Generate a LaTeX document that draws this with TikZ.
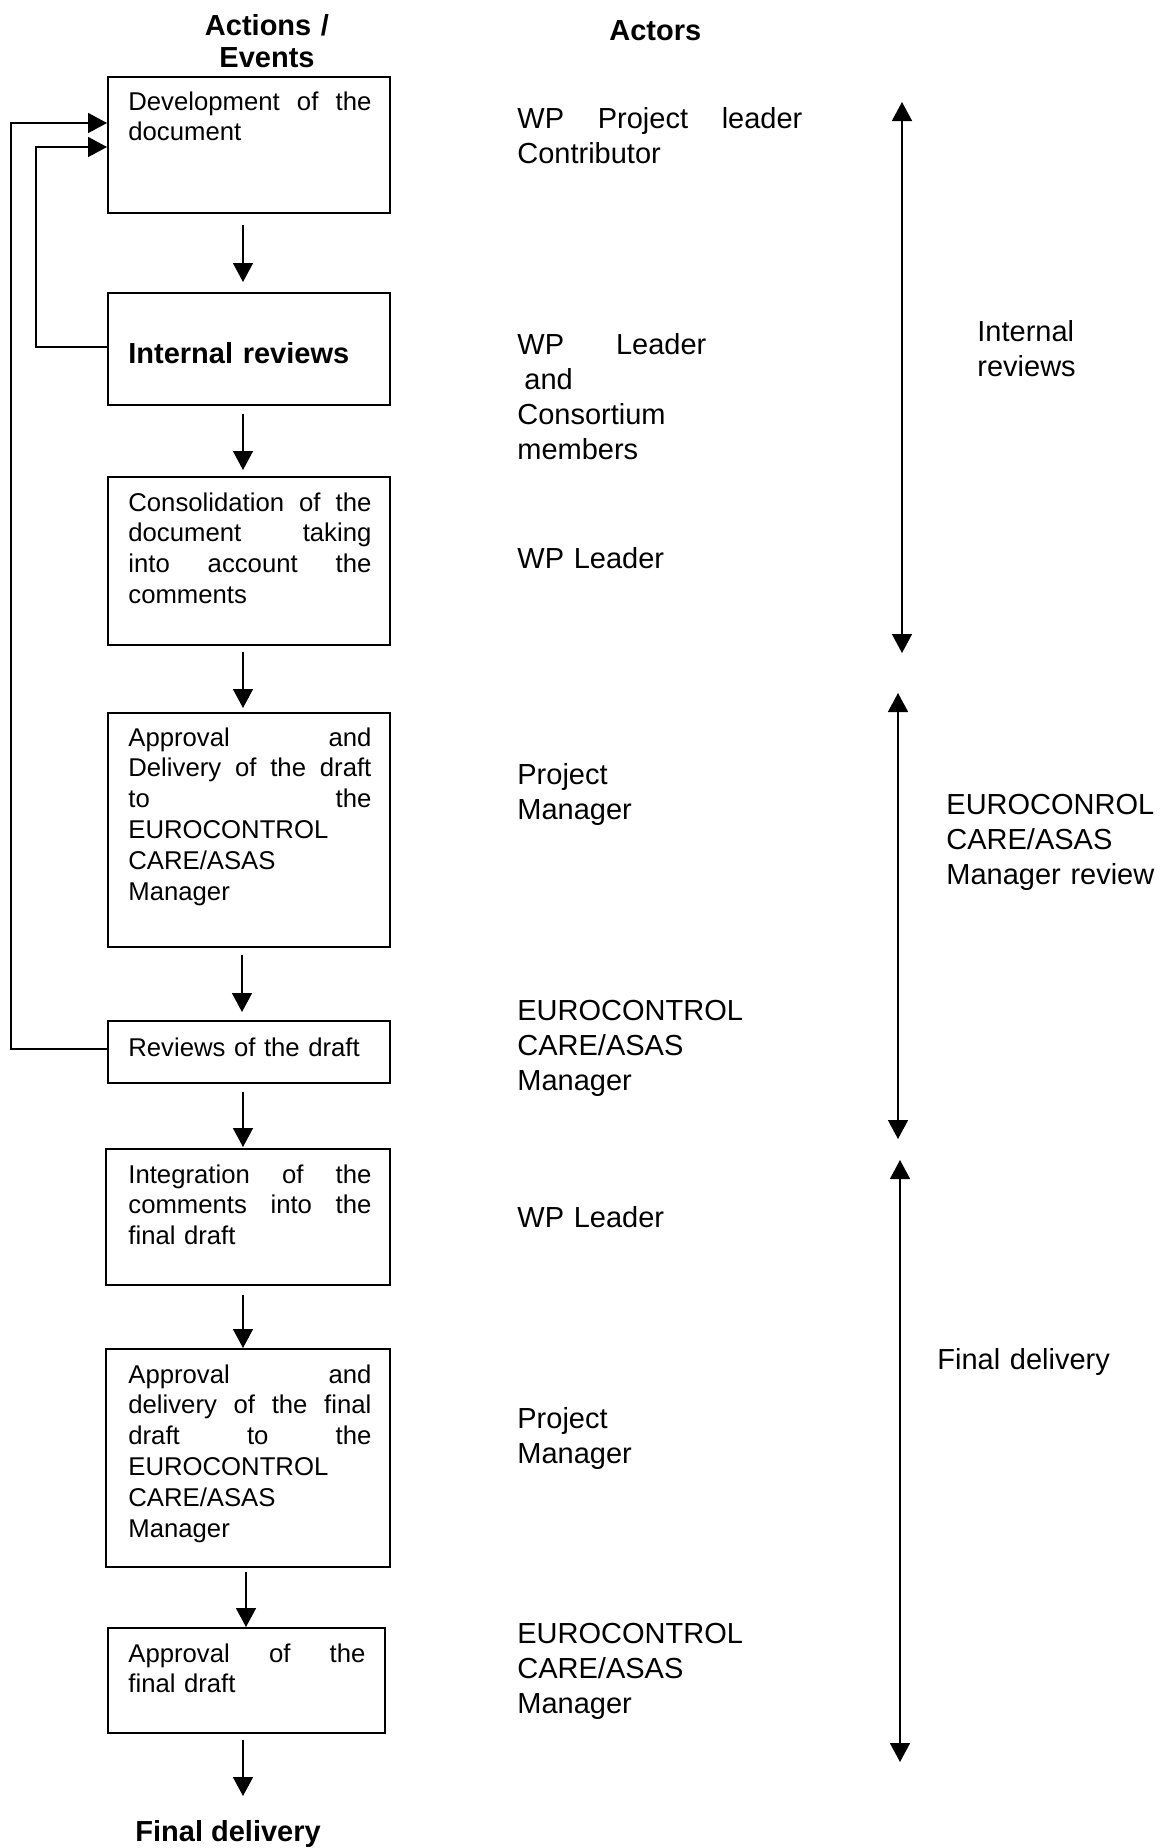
\documentclass[tikz,border=0pt]{standalone}
\usepackage{fontspec}
\setmainfont{Liberation Sans}
\usetikzlibrary{arrows.meta,calc}
\newcommand\bxfont{\fontsize{12.85}{15.4}\selectfont}
\newcommand\acfont{\fontsize{14.5}{17.5}\selectfont}
\newcommand\ttfont{\fontsize{14.5}{16}\selectfont\bfseries}
\newcommand\jl[1]{\leavevmode\hbox to\linewidth{#1}}
\newcommand\jw[2]{\leavevmode\hbox to #1{#2}}
\begin{document}
\begin{tikzpicture}[x=0.5pt,y=-0.5pt,
  boxst/.style={draw, line width=1pt, inner sep=0pt, anchor=north west},
  btext/.style={inner sep=0pt, anchor=base west, text width=121.5pt, font=\bxfont},
  atext/.style={inner sep=0pt, anchor=base west, text width=160pt, font=\acfont},
  ttl/.style={inner sep=0pt, font=\ttfont},
  arr/.style={line width=0.75pt, -{Triangle[length=9.5pt,width=10pt]}},
  darr/.style={line width=0.75pt, {Triangle[length=9.5pt,width=10pt]}-{Triangle[length=9.5pt,width=10pt]}}]
\useasboundingbox (0,0) rectangle (1176,1848);

% titles
\node[ttl, text width=80pt, align=center, anchor=base] (tA) at (267,35) {Actions /\\Events};
\node[ttl, anchor=base west] (tB) at (609,40) {Actors};
\node[ttl, anchor=base west] (fd) at (135,1841) {Final delivery};

% boxes
\node[boxst, minimum width=141pt, minimum height=68pt] (b1) at (107,76) {};
\node[boxst, minimum width=141pt, minimum height=56pt] (b2) at (107,292) {};
\node[boxst, minimum width=141pt, minimum height=84pt] (b3) at (107,476) {};
\node[boxst, minimum width=141pt, minimum height=117pt] (b4) at (107,712) {};
\node[boxst, minimum width=141pt, minimum height=31pt] (b5) at (107,1020) {};
\node[boxst, minimum width=142pt, minimum height=68pt] (b6) at (105,1148) {};
\node[boxst, minimum width=142pt, minimum height=109pt] (b7) at (105,1348) {};
\node[boxst, minimum width=138.5pt, minimum height=52.5pt] (b8) at (107,1627) {};

% box texts
\node[btext] (x1) at (128,110) {\jl{Development\hfill of\hfill the}\\document};
\node[btext, font=\ttfont] (x2) at (128,363) {Internal reviews};
\node[btext] (x3) at (128,511) {\jl{Consolidation\hfill of\hfill the}\\\jl{document\hfill taking}\\\jl{into\hfill account\hfill the}\\comments};
\node[btext] (x4) at (128,746) {\jl{Approval\hfill and}\\\jl{Delivery\hfill of\hfill the\hfill draft}\\\jl{to\hfill the}\\EUROCONTROL\\CARE/ASAS\\Manager};
\node[btext] (x5) at (128,1056) {Reviews of the draft};
\node[btext] (x6) at (128,1183) {\jl{Integration\hfill of\hfill the}\\\jl{comments\hfill into\hfill the}\\final draft};
\node[btext] (x7) at (128,1383) {\jl{Approval\hfill and}\\\jl{delivery\hfill of\hfill the\hfill final}\\\jl{draft\hfill to\hfill the}\\EUROCONTROL\\CARE/ASAS\\Manager};
\node[btext, text width=118.5pt] (x8) at (128,1662) {\jl{Approval\hfill of\hfill the}\\final draft};

% actors
\node[atext] (p1) at (517,128) {\jw{142.5pt}{WP\hfill Project\hfill leader}\\Contributor};
\node[atext] (p2) at (517,354) {\jw{94.5pt}{WP\hfill Leader}\\\hspace*{3.5pt}and\\Consortium\\members};
\node[atext] (p3) at (517,568) {WP Leader};
\node[atext] (p4) at (517,784) {Project\\Manager};
\node[atext] (p5) at (517,1020) {EUROCONTROL\\CARE/ASAS\\Manager};
\node[atext] (p6) at (517,1227) {WP Leader};
\node[atext] (p7) at (517,1428) {Project\\Manager};
\node[atext] (p8) at (517,1643) {EUROCONTROL\\CARE/ASAS\\Manager};

% phase labels
\node[atext, text width=60pt] (l1) at (977,341) {Internal\\reviews};
\node[atext, text width=110pt] (l2) at (946,814) {EUROCONROL\\CARE/ASAS\\Manager review};
\node[atext, text width=110pt] (l3) at (937,1369) {Final delivery};

% down arrows
\coordinate (ax) at (243,0);
\draw[arr] ($(b1.south -| ax)+(0,11)$) -- ($(b2.north -| ax)+(0,-10)$);
\draw[arr] ($(b2.south -| ax)+(0,8)$) -- ($(b3.north -| ax)+(0,-6)$);
\draw[arr] ($(b3.south -| ax)+(0,6)$) -- ($(b4.north -| ax)+(0,-4)$);
\draw[arr] ($(b4.south -| ax)+(-1,7)$) -- ($(b5.north -| ax)+(-1,-8)$);
\draw[arr] ($(b5.south -| ax)+(0,8)$) -- ($(b6.north -| ax)+(0,-1)$);
\draw[arr] ($(b6.south -| ax)+(0,9)$) -- (b7.north -| ax);
\draw[arr] ($(b7.south -| ax)+(3,4)$) -- ($(b8.north -| ax)+(3,0)$);
\draw[arr] ($(b8.south -| ax)+(0,6)$) -- ($(fd.base -| ax)+(0,-45)$);

% feedback loops
\coordinate (fo) at (11,0);
\coordinate (fi) at (36,0);
\coordinate (to) at ($(b1.north west)+(0,47)$);
\coordinate (ti) at ($(b1.north west)+(0,71)$);
\draw[arr] ($(b2.west)+(0,-2)$) -| (fi |- ti) -- (ti);
\draw[arr] ($(b5.west)+(0,-3)$) -| (fo |- to) -- (to);

% phase double arrows
\coordinate (r1a) at (902,102);
\coordinate (r1b) at (902,653);
\coordinate (r2a) at (898,693);
\coordinate (r2b) at (898,1139);
\coordinate (r3a) at (900,1160);
\coordinate (r3b) at (900,1762);
\draw[darr] (r1a) -- (r1b);
\draw[darr] (r2a) -- (r2b);
\draw[darr] (r3a) -- (r3b);
\end{tikzpicture}
\end{document}
